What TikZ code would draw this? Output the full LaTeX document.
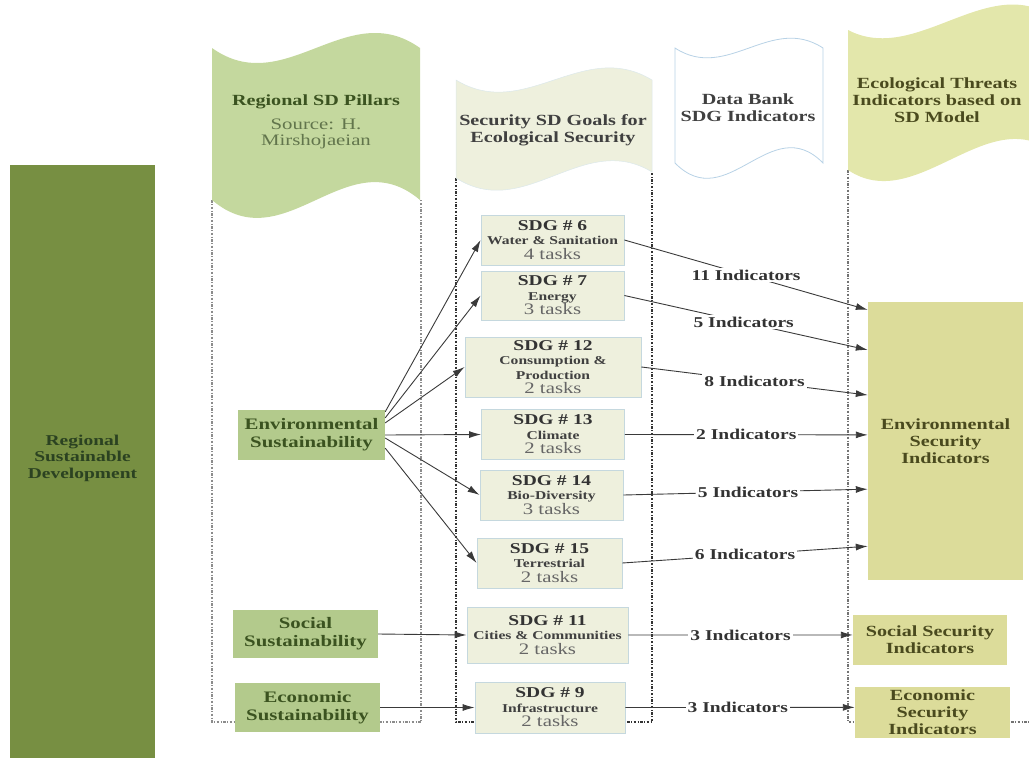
\documentclass[tikz,border=0pt]{standalone}
\usepackage{fontspec}
\setmainfont{Liberation Serif}[FakeStretch=1.3]
\usetikzlibrary{arrows.meta,calc}
\definecolor{barG}{HTML}{778F42}
\definecolor{barT}{HTML}{2B4221}
\definecolor{pilG}{HTML}{B3CA8C}
\definecolor{pilT}{HTML}{3B5320}
\definecolor{banG}{HTML}{C4D89E}
\definecolor{secF}{HTML}{EEF0DD}
\definecolor{secB}{HTML}{C5D8DE}
\definecolor{dbB}{HTML}{B8D2E6}
\definecolor{ecoF}{HTML}{E3E7AB}
\definecolor{indF}{HTML}{DCDC9A}
\definecolor{indT}{HTML}{4A4A1E}
\definecolor{arrC}{HTML}{3A3A3A}
\newcommand\sdgt[1]{{\fontsize{15}{15}\selectfont\bfseries\color{black!80}#1}}
\newcommand\sdgs[1]{{\fontsize{12}{12}\selectfont\bfseries\color{black!75}#1}}
\newcommand\sdgk[1]{{\fontsize{16}{16}\selectfont\color{black!60}#1}}
\tikzset{
  sdgbox/.style={draw=secB, fill=secF, line width=0.8pt, align=center, inner sep=0pt,
    font=\fontsize{14}{14.5}\selectfont},
  pilbox/.style={fill=pilG, align=center, inner sep=0pt, text=pilT,
    font=\fontsize{16}{18}\selectfont\bfseries},
  indbox/.style={fill=indF, align=center, inner sep=0pt, text=indT,
    font=\fontsize{15.5}{17}\selectfont\bfseries},
  hdr/.style={align=center, inner sep=0pt, font=\fontsize{15.5}{17}\selectfont\bfseries},
  lbl/.style={fill=white, inner sep=2pt, text=black!80, font=\fontsize{15}{15}\selectfont\bfseries},
  arr/.style={draw=arrC, line width=0.9pt, -{Latex[length=12pt,width=7pt]}},
  colline/.style={draw=black!55, line width=1.1pt, dash pattern=on 2.5pt off 1.5pt on 1pt off 1.5pt},
}
\begin{document}
\begin{tikzpicture}[x=1pt, y=-1pt]
\useasboundingbox (0,0) rectangle (1029,758);
% column outlines
\draw[colline, draw=black!45] (212,200) -- (212,722) -- (421,722) -- (421,200);
\draw[colline, draw=black!80] (456,178) -- (456,722) -- (652,722) -- (652,172);
\draw[colline, draw=black!55] (848,170) -- (848,722) -- (1045,722);
% banners
\fill[banG] (212,48) .. controls (285,100) and (347,-4) .. (420,48) -- (420,200)
  .. controls (347,138) and (285,262) .. (212,200) -- cycle;
\filldraw[fill=secF, draw=secB!60, line width=0.5pt] (456,80) .. controls (525,122) and (583,38) .. (652,80) -- (652,172)
  .. controls (583,130) and (525,222) .. (456,178) -- cycle;
\filldraw[fill=white, draw=dbB, line width=0.8pt] (675,48) .. controls (727,82) and (771,14) .. (823,48) -- (823,163)
  .. controls (771,110) and (727,216) .. (675,163) -- cycle;
\fill[ecoF] (848,30) .. controls (915,65) and (985,-25) .. (1050,15) -- (1050,150)
  .. controls (985,105) and (915,215) .. (848,170) -- cycle;
% banner texts
\node[hdr, text=pilT] (pilT) at (316,102) {Regional SD Pillars};
\node[align=center, inner sep=0pt, text=pilT!80, font=\fontsize{16}{16}\selectfont] (pilS) at (316,134) {Source: H.\\Mirshojaeian};
\node[hdr, text=black!75] (secT) at (553,130) {Security SD Goals for\\Ecological Security};
\node[hdr, text=black!75] (dbT) at (748,108) {Data Bank\\SDG Indicators};
\node[hdr, text=indT] (ecoT) at (937,100) {Ecological Threats\\Indicators based on\\SD Model};
% big bar
\node[fill=barG, minimum width=145, minimum height=600, inner sep=0pt] (bar) at (82.5,465) {};
\node[align=center, inner sep=0pt, text=barT, font=\fontsize{15}{16.5}\selectfont\bfseries] (barT) at (82.5,458)
  {Regional\\Sustainable\\Development};
% pillars
\node[pilbox, minimum width=147, minimum height=50] (env) at (311.5,435) {Environmental\\Sustainability};
\node[pilbox, minimum width=145, minimum height=48] (soc) at (305.5,634) {Social\\Sustainability};
\node[pilbox, minimum width=145, minimum height=49] (eco) at (307.5,707.5) {Economic\\Sustainability};
% SDG boxes
\node[sdgbox, minimum width=143, minimum height=50] (sdg6) at (552.5,240) {\sdgt{SDG \# 6}\\\sdgs{Water \& Sanitation}\\\sdgk{4 tasks}};
\node[sdgbox, minimum width=143, minimum height=49] (sdg7) at (552.5,295.5) {\sdgt{SDG \# 7}\\\sdgs{Energy}\\\sdgk{3 tasks}};
\node[sdgbox, minimum width=176, minimum height=60] (sdg12) at (553,367) {\sdgt{SDG \# 12}\\\sdgs{Consumption \&}\\\sdgs{Production}\\\sdgk{2 tasks}};
\node[sdgbox, minimum width=143, minimum height=50] (sdg13) at (553,434.5) {\sdgt{SDG \# 13}\\\sdgs{Climate}\\\sdgk{2 tasks}};
\node[sdgbox, minimum width=143, minimum height=50] (sdg14) at (551.5,495) {\sdgt{SDG \# 14}\\\sdgs{Bio-Diversity}\\\sdgk{3 tasks}};
\node[sdgbox, minimum width=145, minimum height=50] (sdg15) at (549.5,563) {\sdgt{SDG \# 15}\\\sdgs{Terrestrial}\\\sdgk{2 tasks}};
\node[sdgbox, minimum width=161, minimum height=56] (sdg11) at (547.5,635) {\sdgt{SDG \# 11}\\\sdgs{Cities \& Communities}\\\sdgk{2 tasks}};
\node[sdgbox, minimum width=150, minimum height=51] (sdg9) at (550,707.5) {\sdgt{SDG \# 9}\\\sdgs{Infrastructure}\\\sdgk{2 tasks}};
% indicator boxes
\node[indbox, minimum width=155, minimum height=278] (envsec) at (945.5,441) {Environmental\\Security\\Indicators};
\node[indbox, minimum width=154, minimum height=50] (socsec) at (930,640) {Social Security\\Indicators};
\node[indbox, minimum width=155, minimum height=51] (ecosec) at (932.5,712.5) {Economic\\Security\\Indicators};
% arrows from environmental sustainability
\draw[arr] ($(env.north east)!0.04!(env.south east)$) -- (sdg6.west);
\draw[arr] ($(env.north east)!0.16!(env.south east)$) -- (sdg7.west);
\draw[arr] ($(env.north east)!0.26!(env.south east)$) -- (sdg12.west);
\draw[arr] ($(env.north east)!0.5!(env.south east)$) -- (sdg13.west);
\draw[arr] ($(env.north east)!0.56!(env.south east)$) -- (sdg14.west);
\draw[arr] ($(env.north east)!0.76!(env.south east)$) -- (sdg15.west);
\draw[arr] (soc.east) -- (sdg11.west);
\draw[arr] (eco.east) -- (sdg9.west);
% arrows to indicators
\draw[arr] (sdg6.east) -- node[lbl, pos=0.5] {11 Indicators} ($(envsec.north west)!0.029!(envsec.south west)$);
\draw[arr] (sdg7.east) -- node[lbl, pos=0.49] {5 Indicators} ($(envsec.north west)!0.173!(envsec.south west)$);
\draw[arr] (sdg12.east) -- node[lbl, pos=0.5] {8 Indicators} ($(envsec.north west)!0.335!(envsec.south west)$);
\draw[arr] (sdg13.east) -- node[lbl, pos=0.5] {2 Indicators} ($(envsec.north west)!0.478!(envsec.south west)$);
\draw[arr] (sdg14.east) -- node[lbl, pos=0.51] {5 Indicators} ($(envsec.north west)!0.673!(envsec.south west)$);
\draw[arr] (sdg15.east) -- node[lbl, pos=0.5] {6 Indicators} ($(envsec.north west)!0.878!(envsec.south west)$);
\draw[arr] (sdg11.east) -- node[lbl, pos=0.5] {3 Indicators} ($(socsec.north west)!0.4!(socsec.south west)$);
\draw[arr] (sdg9.east) -- node[lbl, pos=0.49] {3 Indicators} ($(ecosec.north west)!0.4!(ecosec.south west)$);
\end{tikzpicture}
\end{document}
